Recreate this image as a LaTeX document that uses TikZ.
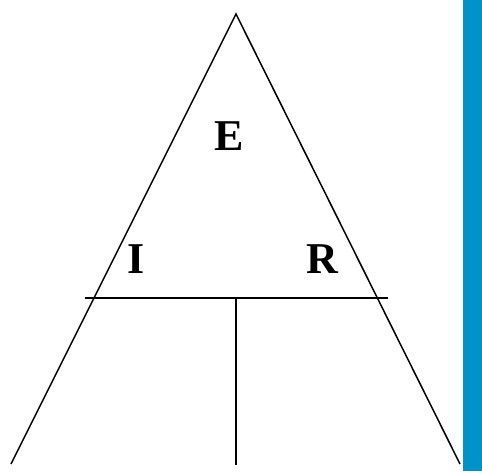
\documentclass[tikz,border=0pt]{standalone}
\usepackage{fontspec}
\setmainfont{Liberation Serif}
\definecolor{barblue}{RGB}{0,146,201}

\begin{document}
\begin{tikzpicture}[x=1pt,y=-1pt,
    letter/.style={font=\fontsize{44}{44}\selectfont\bfseries, inner sep=0pt}]
  \useasboundingbox (0,0) rectangle (482,472);
  \fill[barblue] (463,0) rectangle (482,471);

  \coordinate (top) at (236,14);
  \coordinate (bl) at (11,464);
  \coordinate (br) at (460,464);
  \coordinate (hl) at (85,298);
  \coordinate (hr) at (388,298);
  \coordinate (mid) at (236,298);
  \coordinate (bot) at (236,465);

  \draw [black, line width=1.5pt] (bl) -- (top) -- (br);
  \draw [black, line width=1.5pt] (hl) -- (hr);
  \draw [black, line width=1.5pt] (mid) -- (bot);

\node[letter] (e) at (229,136) {E};
\node[letter] (i) at (136,259) {I};
\node[letter] (r) at (322,259) {R};
\end{tikzpicture}
\end{document}
